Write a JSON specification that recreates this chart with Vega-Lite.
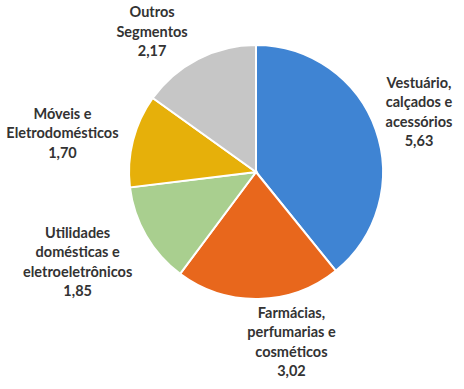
{
  "$schema": "https://vega.github.io/schema/vega-lite/v6.json",
  "width": 416,
  "height": 344,
  "autosize": {"type": "none"},
  "padding": {"left": 48, "top": 0, "right": 0, "bottom": 45},
  "background": "white",
  "view": {"stroke": null},
  "data": {
    "values": [
      {"cat": "Vestuário", "value": 5.63, "order": 1, "label": "Vestuário,\ncalçados e\nacessórios\n5,63"},
      {"cat": "Farmácias", "value": 3.02, "order": 2, "label": "Farmácias,\nperfumarias e\ncosméticos\n3,02"},
      {"cat": "Utilidades", "value": 1.85, "order": 3, "label": "Utilidades\ndomésticas e\neletroeletrônicos\n1,85"},
      {"cat": "Móveis", "value": 1.70, "order": 4, "label": "Móveis e\nEletrodomésticos\n1,70"},
      {"cat": "Outros", "value": 2.17, "order": 5, "label": "Outros\nSegmentos\n2,17"}
    ]
  },
  "encoding": {
    "theta": {"field": "value", "type": "quantitative", "stack": true},
    "order": {"field": "order", "type": "quantitative"}
  },
  "layer": [
    {
      "mark": {"type": "arc", "outerRadius": 127, "stroke": "white", "strokeWidth": 2},
      "encoding": {
        "color": {
          "field": "cat", "type": "nominal", "legend": null,
          "scale": {
            "domain": ["Vestuário", "Farmácias", "Utilidades", "Móveis", "Outros"],
            "range": ["#3f84d3", "#e8671c", "#a9cf8f", "#e6b00a", "#c6c6c6"]
          }
        }
      }
    },
    {
      "mark": {"type": "text", "radius": 175, "dx": -2, "dy": -30, "font": "Lato", "fontWeight": "bold", "fontSize": 14.5, "lineHeight": 19.5, "lineBreak": "\n", "color": "#333333", "align": "center", "baseline": "middle"},
      "encoding": {"text": {"condition": {"test": "datum.cat === 'Vestuário'", "field": "label"}, "value": ""}}
    },
    {
      "mark": {"type": "text", "radius": 175, "dx": 32, "dy": -33, "font": "Lato", "fontWeight": "bold", "fontSize": 14.5, "lineHeight": 19.5, "lineBreak": "\n", "color": "#333333", "align": "center", "baseline": "middle"},
      "encoding": {"text": {"condition": {"test": "datum.cat === 'Farmácias'", "field": "label"}, "value": ""}}
    },
    {
      "mark": {"type": "text", "radius": 175, "dx": -27, "dy": -26, "font": "Lato", "fontWeight": "bold", "fontSize": 14.5, "lineHeight": 19.5, "lineBreak": "\n", "color": "#333333", "align": "center", "baseline": "middle"},
      "encoding": {"text": {"condition": {"test": "datum.cat === 'Utilidades'", "field": "label"}, "value": ""}}
    },
    {
      "mark": {"type": "text", "radius": 175, "dx": -24, "dy": -14, "font": "Lato", "fontWeight": "bold", "fontSize": 14.5, "lineHeight": 19.5, "lineBreak": "\n", "color": "#333333", "align": "center", "baseline": "middle"},
      "encoding": {"text": {"condition": {"test": "datum.cat === 'Móveis'", "field": "label"}, "value": ""}}
    },
    {
      "mark": {"type": "text", "radius": 175, "dx": -24, "dy": -3, "font": "Lato", "fontWeight": "bold", "fontSize": 14.5, "lineHeight": 19.5, "lineBreak": "\n", "color": "#333333", "align": "center", "baseline": "middle"},
      "encoding": {"text": {"condition": {"test": "datum.cat === 'Outros'", "field": "label"}, "value": ""}}
    }
  ]
}
